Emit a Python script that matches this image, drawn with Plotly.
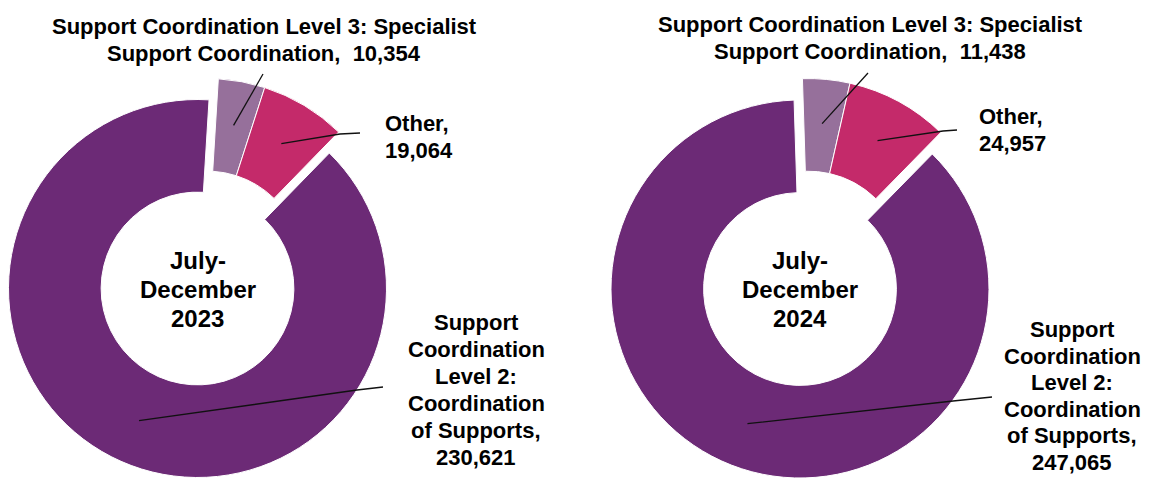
import math
import plotly.graph_objects as go

W, H = 1150, 478

# ---- data -------------------------------------------------------------
categories = [
    "Support Coordination Level 3: Specialist Support Coordination",
    "Other",
    "Support Coordination Level 2: Coordination of Supports",
]
periods = [["July-", "December", "2023"], ["July-", "December", "2024"]]
values_2023 = [10354, 19064, 230621]
values_2024 = [11438, 24957, 247065]

# wrapped label text per category ({v} is replaced by the value)
label_lines = [
    ["Support Coordination Level 3: Specialist", "Support Coordination,\u00a0 {v}"],
    ["Other,", "{v}"],
    ["Support", "Coordination", "Level 2:", "Coordination", "of Supports,", "{v}"],
]

# ---- styling ----------------------------------------------------------
colors = ["#96709B", "#C42A6A", "#6C2A76"]
CLEAR = "rgba(0,0,0,0)"
FONT = "Liberation Sans, Arial, Helvetica, sans-serif"
R = 189          # outer radius (px)
HOLE = 0.51
EXPLODE = 23     # px the two small slices are pulled out
LEADER_R = 0.765 # where leader lines meet the slices (fraction of R)
LABEL_SIZE = 22
CENTER_SIZE, CENTER_GAP = 24, 29

panels = [
    dict(values=values_2023, period=periods[0], cx=197.5, cy=288.5, rot=3.5,
         labels=[
             dict(pos=(264, 40), anchor="center", gap=26.5, path=[(263, 74)]),
             dict(pos=(383, 137), anchor="left", gap=27, path=[(360, 133), (340, 134)]),
             dict(pos=(476, 390), anchor="center", gap=27, path=[(383, 387), (357, 390)]),
         ]),
    dict(values=values_2024, period=periods[1], cx=800, cy=289, rot=-1.8,
         labels=[
             dict(pos=(870, 38), anchor="center", gap=26.5, path=[(868, 73)]),
             dict(pos=(977, 130), anchor="left", gap=27, path=[(957, 130), (943, 131)]),
             dict(pos=(1072, 396), anchor="center", gap=26.6, path=[(992, 397), (953, 401)]),
         ]),
]


def px(x):
    return x / W


def py(y):
    return 1 - y / H


def domain(cx, cy):
    return dict(x=[px(cx - R), px(cx + R)], y=[py(cy + R), py(cy - R)])


def text_block(lines, x, yc, anchor, size, gap):
    """One annotation per line, stacked around yc with a fixed line gap."""
    n = len(lines)
    out = []
    for k, line in enumerate(lines):
        y = yc + (k - (n - 1) / 2) * gap
        out.append(dict(
            x=px(x), y=py(y), xref="paper", yref="paper", text=line,
            showarrow=False, xanchor=anchor, yanchor="middle",
            font=dict(family=FONT, size=size, color="#000000", weight="bold"),
        ))
    return out


fig = go.Figure()
shapes, annotations = [], []

for p in panels:
    vals = p["values"]
    total = sum(vals)
    rot = p["rot"]

    # slice mid-angles, clockwise from 12 o'clock
    cum, mids = 0, []
    for v in vals:
        mids.append(rot + 360 * (cum + v / 2) / total)
        cum += v

    # the two small slices are pulled out together along their joint mid-angle
    grp = math.radians(rot + 360 * (vals[0] + vals[1]) / total / 2)
    sx, sy = EXPLODE * math.sin(grp), -EXPLODE * math.cos(grp)
    centers = [(p["cx"] + sx, p["cy"] + sy)] * 2 + [(p["cx"], p["cy"])]

    # main slice (centred) and pulled-out small slices
    for show, (cx, cy) in (([2], (p["cx"], p["cy"])), ([0, 1], (p["cx"] + sx, p["cy"] + sy))):
        fig.add_trace(go.Pie(
            labels=categories,
            values=vals,
            hole=HOLE,
            sort=False,
            direction="clockwise",
            rotation=rot,
            textinfo="none",
            textposition="none",
            marker=dict(
                colors=[colors[i] if i in show else CLEAR for i in range(3)],
                line=dict(color=["#FFFFFF" if i in show else CLEAR for i in range(3)],
                          width=1),
            ),
            domain=domain(cx, cy),
            showlegend=False,
            hoverinfo="label+value",
        ))

    # centre caption
    annotations += text_block(p["period"], p["cx"], p["cy"] + 0.5, "center",
                              CENTER_SIZE, CENTER_GAP)

    # slice labels and leader lines
    for i, lab in enumerate(p["labels"]):
        lines = [s.format(v=f"{vals[i]:,}") for s in label_lines[i]]
        annotations += text_block(lines, lab["pos"][0], lab["pos"][1], lab["anchor"],
                                  LABEL_SIZE, lab["gap"])
        a = math.radians(mids[i])
        cx, cy = centers[i]
        inner = (cx + LEADER_R * R * math.sin(a), cy - LEADER_R * R * math.cos(a))
        pts = lab["path"] + [inner]
        d = "M " + " L ".join(f"{px(x):.5f},{py(y):.5f}" for x, y in pts)
        shapes.append(dict(type="path", path=d, xref="paper", yref="paper",
                           line=dict(color="#111111", width=1.3)))

fig.update_layout(
    width=W, height=H,
    margin=dict(l=0, r=0, t=0, b=0),
    paper_bgcolor="#FFFFFF",
    plot_bgcolor="#FFFFFF",
    shapes=shapes,
    annotations=annotations,
    showlegend=False,
)

fig.write_html("out.html")
